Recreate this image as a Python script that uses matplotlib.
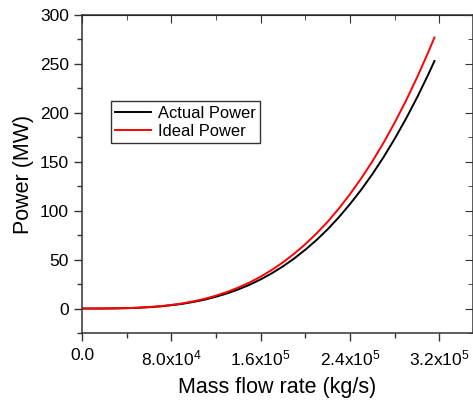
import matplotlib.pyplot as plt
from matplotlib.ticker import FixedLocator, FixedFormatter, MultipleLocator

plt.rcParams['font.family'] = ['Liberation Sans', 'DejaVu Sans']
plt.rcParams['mathtext.fontset'] = 'custom'
plt.rcParams['mathtext.rm'] = 'Liberation Sans'
plt.rcParams['mathtext.it'] = 'Liberation Sans'

# mass flow rate (kg/s)
mass_flow = [0, 1e4, 2e4, 3e4, 4e4, 5e4, 6e4, 7e4, 8e4, 9e4,
             1.0e5, 1.1e5, 1.2e5, 1.3e5, 1.4e5, 1.5e5, 1.6e5, 1.7e5, 1.8e5, 1.9e5,
             2.0e5, 2.1e5, 2.2e5, 2.3e5, 2.4e5, 2.5e5, 2.6e5, 2.7e5, 2.8e5, 2.9e5,
             3.0e5, 3.1e5, 3.155e5]
# power (MW)
actual_power = [0, 0.005, 0.05, 0.15, 0.38, 0.77, 1.4, 2.2, 3.4, 4.8,
                6.8, 9.1, 12.1, 15.5, 19.6, 24.3, 29.8, 36.1, 43.2, 51.2,
                60.2, 70.1, 81.1, 93.4, 106.9, 121.5, 137.5, 154.8, 173.7, 194.0,
                215.8, 239.3, 253.0]
ideal_power = [0, 0.006, 0.05, 0.17, 0.42, 0.84, 1.5, 2.4, 3.7, 5.3,
               7.4, 10.0, 13.2, 17.0, 21.5, 26.6, 32.6, 39.5, 47.3, 56.1,
               65.9, 76.8, 88.8, 102.3, 117.1, 133.1, 150.6, 169.6, 190.2, 212.4,
               236.4, 262.1, 277.0]

x_ticks = [0, 8e4, 1.6e5, 2.4e5, 3.2e5]
x_labels = ['0.0', r'8.0x10$^{4}$', r'1.6x10$^{5}$', r'2.4x10$^{5}$', r'3.2x10$^{5}$']
y_ticks = [0, 50, 100, 150, 200, 250, 300]

fig = plt.figure(figsize=(4.73, 4.01), dpi=100)
ax = fig.add_axes([0.1734, 0.1696, 0.8266, 0.793])

ax.plot(mass_flow, actual_power, color='black', lw=1.4, label='Actual Power')
ax.plot(mass_flow, ideal_power, color='red', lw=1.4, label='Ideal Power')

ax.set_xlim(0, 3.5e5)
ax.set_ylim(-25, 300)
ax.xaxis.set_major_locator(FixedLocator(x_ticks))
ax.xaxis.set_major_formatter(FixedFormatter(x_labels))
ax.xaxis.set_minor_locator(MultipleLocator(4e4))
ax.yaxis.set_major_locator(FixedLocator(y_ticks))
ax.yaxis.set_minor_locator(MultipleLocator(25))
ax.tick_params(which='major', direction='out', length=6, width=1, labelsize=12.5, colors='#333333', labelcolor='black')
ax.tick_params(which='minor', direction='out', length=3.5, width=1, colors='#333333')
ax.tick_params(axis='x', pad=5)

for s in ax.spines.values():
    s.set_color('#333333')
    s.set_linewidth(1.1)

top = ax.secondary_xaxis('top')
top.xaxis.set_major_locator(FixedLocator(x_ticks))
top.xaxis.set_minor_locator(MultipleLocator(4e4))
top.tick_params(which='major', direction='in', length=6, labeltop=False, colors='#333333')
top.tick_params(which='minor', direction='in', length=3.5, colors='#333333')
right = ax.secondary_yaxis('right')
right.yaxis.set_major_locator(FixedLocator(y_ticks))
right.yaxis.set_minor_locator(MultipleLocator(25))
right.tick_params(which='major', direction='in', length=6, labelright=False, colors='#333333')
right.tick_params(which='minor', direction='in', length=3.5, colors='#333333')

ax.set_xlabel('Mass flow rate (kg/s)', fontsize=15.5, labelpad=6)
ax.set_ylabel('Power (MW)', fontsize=15.5, labelpad=4)

leg = ax.legend(loc='upper left', bbox_to_anchor=(0.074, 0.728), fontsize=11.9,
                frameon=True, fancybox=False, edgecolor='black', handlelength=2.2,
                borderpad=0.25, labelspacing=0.2, handletextpad=0.4, borderaxespad=0)
leg.get_frame().set_linewidth(1.0)

fig.savefig('out.png', dpi=100)
